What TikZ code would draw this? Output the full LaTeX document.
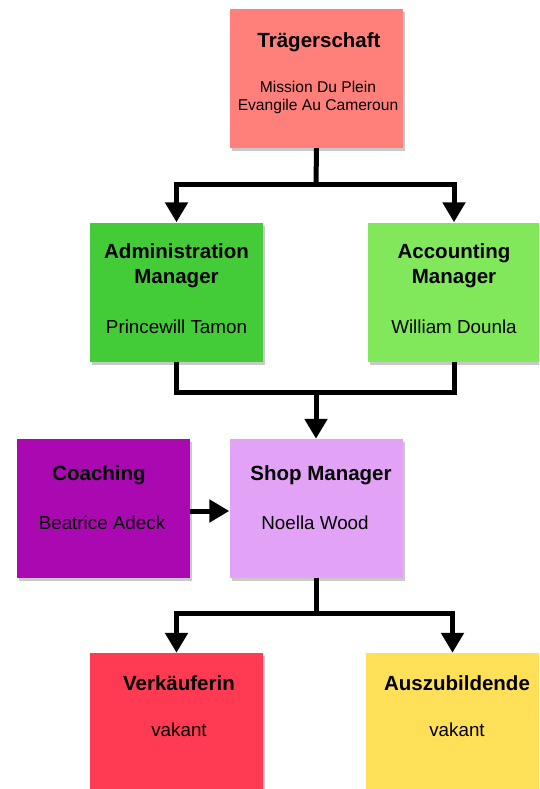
\documentclass[tikz,border=0pt]{standalone}
\usepackage{fontspec}
\setmainfont{Liberation Sans}
\usetikzlibrary{arrows.meta,shadows}
\definecolor{cTrager}{HTML}{FF807A}
\definecolor{cAdmin}{HTML}{44CC38}
\definecolor{cAcct}{HTML}{80E85A}
\definecolor{cCoach}{HTML}{AA08B0}
\definecolor{cShop}{HTML}{E2A2F6}
\definecolor{cVerk}{HTML}{FF3A52}
\definecolor{cAusz}{HTML}{FFE058}
\tikzset{
  box/.style={draw=none, minimum width=173pt, minimum height=139pt, inner sep=0pt,
    drop shadow={shadow xshift=2pt, shadow yshift=-3pt, opacity=0.3, fill=black!70}},
  title/.style={font=\fontsize{20.5}{25}\selectfont\bfseries, align=center, inner sep=0pt},
  body/.style={font=\fontsize{18.8}{20}\selectfont, align=center, inner sep=0pt},
  small/.style={font=\fontsize{15.6}{18}\selectfont, align=center, inner sep=0pt},
  link/.style={line width=5pt, line join=miter},
  arr/.style={link, -{Triangle[width=22pt,length=20pt]}}
}
\begin{document}
\begin{tikzpicture}[x=1pt, y=-1pt]
\useasboundingbox (0,0) rectangle (539,789);
\begin{scope}
\clip (0,0) rectangle (539,789);
% boxes
\node[box, fill=cTrager] (trager) at (316.5,78.5) {};
\node[box, fill=cAdmin] (admin) at (176.5,292) {};
\node[box, fill=cAcct] (acct) at (454,292) {};
\node[box, fill=cCoach] (coach) at (103.5,508.5) {};
\node[box, fill=cShop] (shop) at (316,508.5) {};
\node[box, fill=cVerk] (verk) at (176.5,722.5) {};
\node[box, fill=cAusz] (ausz) at (452.5,722.5) {};
\end{scope}

% texts
\node[title] (tragerT) at (319,42) {Trägerschaft};
\node[small] (tragerB) at (318,97) {Mission Du Plein\\Evangile Au Cameroun};
\node[title] (adminT) at (176.5,265.5) {Administration\\Manager};
\node[body] (adminB) at (176.5,327) {Princewill Tamon};
\node[title] (acctT) at (454,265.5) {Accounting\\Manager};
\node[body] (acctB) at (454,327) {William Dounla};
\node[title] (coachT) at (99,475) {Coaching};
\node[body] (coachB) at (102,523) {Beatrice Adeck};
\node[title] (shopT) at (321,475) {Shop Manager};
\node[body] (shopB) at (315,523) {Noella Wood};
\node[title] (verkT) at (179,683) {Verkäuferin};
\node[body] (verkB) at (179,730) {vakant};
\node[title] (auszT) at (457,683) {Auszubildende};
\node[body] (auszB) at (457,730) {vakant};

% connectors
\coordinate (j1) at (316,184);
\coordinate (j2) at (316,392);
\coordinate (j3) at (316,613);
\draw[link] (trager.south) -- (j1);
\draw[arr] (j1) -| (admin.north);
\draw[arr] (j1) -| (acct.north);
\draw[link] (admin.south) |- (j2) -| (acct.south);
\draw[arr] (j2) -- (shop.north);
\draw[arr] (coach.east |- 0,511) -- (shop.west |- 0,511);
\draw[link] (shop.south) -- (j3);
\draw[arr] (j3) -| (verk.north);
\draw[arr] (j3) -| (ausz.north);
\end{tikzpicture}
\end{document}
